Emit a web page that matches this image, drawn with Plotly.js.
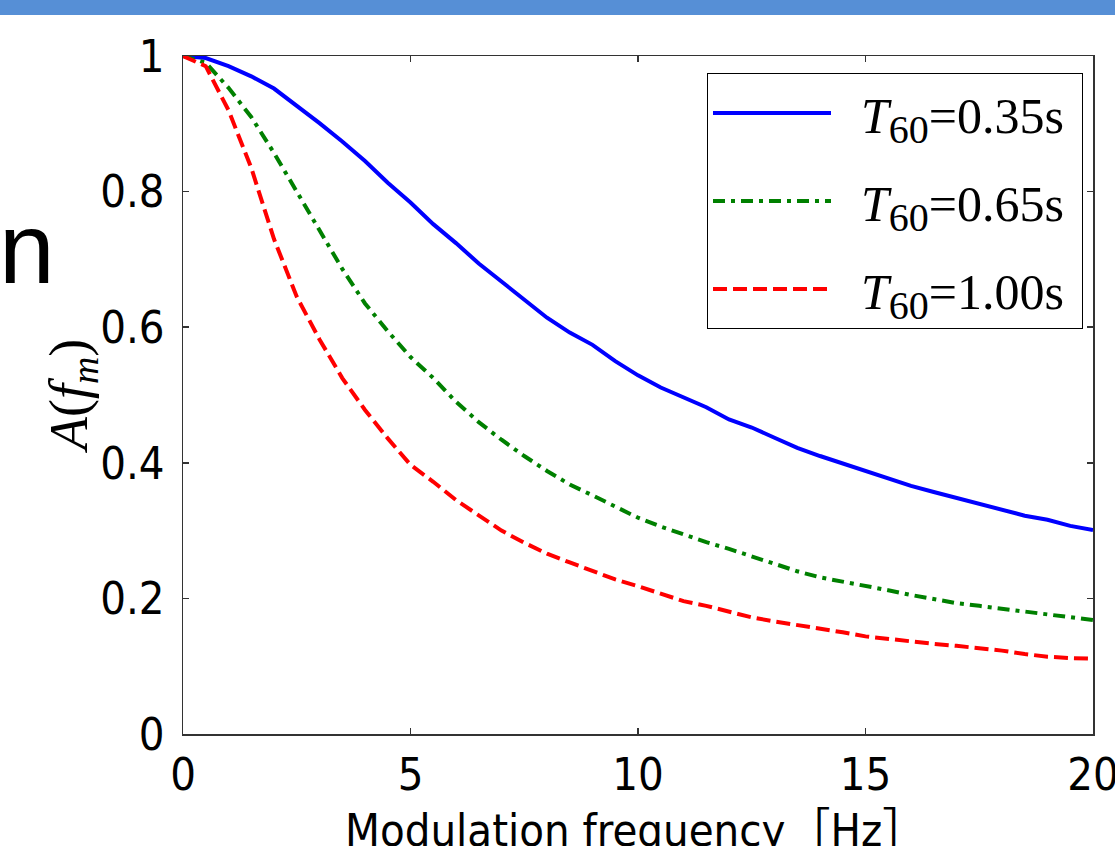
<!DOCTYPE html>
<html>
<head>
<meta charset="utf-8">
<script src="https://cdn.plot.ly/plotly-3.0.1.min.js"></script>
<style>html,body{margin:0;padding:0;background:#fff;}#chart{width:1115px;height:846px;}</style>
</head>
<body>
<div id="chart"></div>
<script>
// Modulation frequency [Hz]
const freq = [0,0.5,1,1.5,2,2.5,3,3.5,4,4.5,5,5.5,6,6.5,7,7.5,8,8.5,9,9.5,10,
              10.5,11,11.5,12,12.5,13,13.5,14,14.5,15,15.5,16,16.5,17,17.5,18,18.5,19,19.5,20];
// A(f_m) for T60 = 0.35 s
const a035 = [1.0,0.997,0.985,0.97,0.952,0.927,0.901,0.874,0.845,0.813,0.784,0.752,0.724,0.694,0.667,0.641,0.614,0.592,0.574,0.55,0.529,
              0.511,0.496,0.482,0.464,0.452,0.437,0.422,0.41,0.399,0.388,0.377,0.366,0.357,0.348,0.34,0.331,0.322,0.316,0.307,0.301];
// A(f_m) for T60 = 0.65 s
const a065 = [1.0,0.99,0.953,0.91,0.857,0.8,0.744,0.686,0.635,0.594,0.556,0.525,0.49,0.46,0.434,0.41,0.388,0.368,0.352,0.335,0.319,
              0.306,0.294,0.283,0.273,0.262,0.251,0.24,0.231,0.225,0.219,0.212,0.205,0.199,0.193,0.189,0.185,0.18,0.176,0.172,0.168];
// A(f_m) for T60 = 1.00 s
const a100 = [1.0,0.985,0.92,0.835,0.73,0.645,0.582,0.525,0.478,0.436,0.397,0.372,0.345,0.322,0.3,0.282,0.266,0.253,0.24,0.228,0.218,
              0.207,0.196,0.189,0.18,0.172,0.166,0.161,0.156,0.15,0.144,0.14,0.136,0.133,0.13,0.127,0.123,0.118,0.114,0.112,0.111];
const t60Labels = ['0.35s','0.65s','1.00s'];
const xTickVals = [0,5,10,15,20];
const yTickVals = [0,0.2,0.4,0.6,0.8,1];
const yTickText = ['0','0.2','0.4','0.6','0.8','1'];
const xTitle = 'Modulation frequency［Hz］';
const yTitle = '<i>A</i>(<i>f<sub>m</sub></i>)';

const legendName = v => '\u00A0\u00A0<i>T</i><sub><span style="font-size:40px">60</span></sub>=' + v + '\u00A0';

const W = 1115, H = 846;
const M = {l:183, r:22, t:56, b:112};
const pw = W - M.l - M.r, ph = H - M.t - M.b;
const px2x = p => (p - M.l) / pw;
const py2y = p => (H - M.b - p) / ph;

const tickFont = {family:'"Liberation Sans Narrow","DejaVu Sans Condensed","Noto Sans CJK JP",sans-serif', size:45, color:'#000'};

const traces = [
  {x:freq, y:a035, name:legendName(t60Labels[0]), mode:'lines', line:{color:'#0000FF', width:4, dash:'solid'}, legendgroup:'g1'},
  {x:freq, y:a065, name:legendName(t60Labels[1]), mode:'lines', line:{color:'#008000', width:4, dash:'12px,6px,4px,6px'}, legendgroup:'g2'},
  {x:freq, y:a100, name:legendName(t60Labels[2]), mode:'lines', line:{color:'#FF0000', width:4, dash:'14px,6px'}, legendgroup:'g3'}
];

const axisCommon = {
  showline:true, linecolor:'#333', linewidth:1.5, mirror:'ticks',
  ticks:'inside', ticklen:6, tickwidth:1.5, tickcolor:'#333',
  showgrid:false, zeroline:false, tickfont:tickFont, ticklabeloverflow:'allow'
};

const layout = {
  width:W, height:H, margin:M,
  paper_bgcolor:'#fff', plot_bgcolor:'#fff',
  showlegend:true,
  xaxis: Object.assign({}, axisCommon, {
    range:[0,20], tickmode:'array', tickvals:xTickVals, ticklabelstandoff:0
  }),
  yaxis: Object.assign({}, axisCommon, {
    range:[0,1], tickmode:'array', tickvals:yTickVals, ticktext:yTickText, ticklabelstandoff:8
  }),
  legend:{
    x:px2x(1083), xanchor:'right', y:py2y(73), yanchor:'top',
    bgcolor:'#fff', bordercolor:'#000', borderwidth:1,
    font:{family:'"Liberation Serif","DejaVu Serif",serif', size:50, color:'#000'},
    itemwidth:118, tracegroupgap:20
  },
  shapes:[
    {type:'rect', xref:'paper', yref:'paper', x0:px2x(0), x1:px2x(W), y0:py2y(15), y1:py2y(0),
     fillcolor:'rgb(86,143,214)', line:{width:0}, layer:'above'}
  ],
  annotations:[
    {text:xTitle, xref:'paper', yref:'paper', x:px2x(636), xanchor:'center', y:py2y(830), yanchor:'middle',
     showarrow:false, font:tickFont},
    {text:yTitle, xref:'paper', yref:'paper', x:px2x(72), xanchor:'center', y:py2y(396), yanchor:'middle',
     textangle:-90, showarrow:false, font:{family:'"Liberation Serif","DejaVu Serif",serif', size:54, color:'#000'}},
    {text:'n', xref:'paper', yref:'paper', x:px2x(-3), xanchor:'left', y:py2y(248), yanchor:'middle',
     showarrow:false, font:{family:'"Liberation Sans","Noto Sans",sans-serif', size:100, color:'#000'}}
  ]
};

Plotly.newPlot('chart', traces, layout, {displayModeBar:false, staticPlot:true});
</script>
</body>
</html>
